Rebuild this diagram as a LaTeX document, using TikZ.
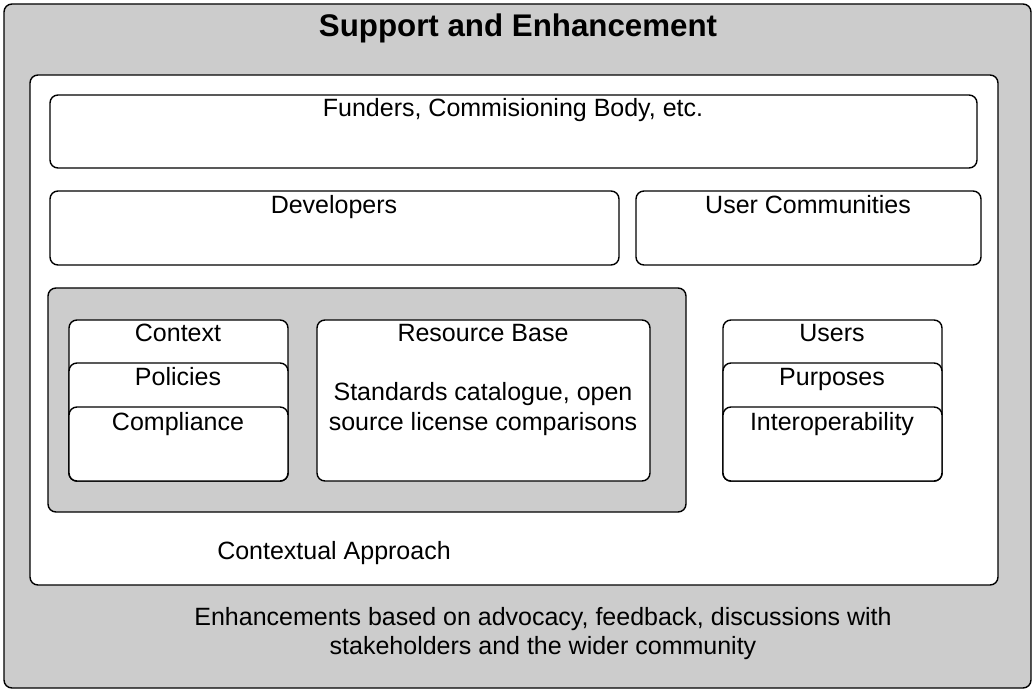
\documentclass[tikz,border=0pt]{standalone}
\usepackage{fontspec}
\setmainfont{Liberation Sans}
\usetikzlibrary{positioning}

\tikzset{
  box/.style={draw=black, line width=1.4pt, rounded corners=8pt, fill=white},
  graybox/.style={box, fill=black!20},
  lbl/.style={anchor=base, inner sep=0pt, font=\fontsize{25}{29}\selectfont, align=center}
}

\begin{document}
\begin{tikzpicture}[x=1pt, y=-1pt]
\useasboundingbox (0,0) rectangle (1036,692);
% outer frame
\draw[graybox] (4,4) rectangle (1031,688);
\node[lbl, font=\fontsize{31.3}{36}\selectfont\bfseries] (title) at (518,37) {Support and Enhancement};
\draw[box] (30,75) rectangle (998,585);
% top rows
\draw[box] (50,95) rectangle (977,168);
\node[lbl] (funders) at (513,117) {Funders, Commisioning Body, etc.};
\draw[box] (50,191) rectangle (619,265);
\node[lbl] (dev) at (334,214) {Developers};
\draw[box] (636,191) rectangle (981,265);
\node[lbl] (usercom) at (808,214) {User Communities};
% contextual approach
\draw[graybox] (48,288) rectangle (686,512);
\draw[box] (69,320) rectangle (288,481);
\node[lbl] (context) at (178,342) {Context};
\draw[box] (69,363) rectangle (288,481);
\node[lbl] (policies) at (178,386) {Policies};
\draw[box] (69,407) rectangle (288,481);
\node[lbl] (compliance) at (178,430) {Compliance};
\draw[box] (317,320) rectangle (650,481);
\node[lbl] (resbase) at (483,342) {Resource Base};
\node[lbl] (standards) at (483,430) {Standards catalogue, open\\source license comparisons};
\node[lbl] (approach) at (334,559) {Contextual Approach};
% users stack
\draw[box] (723,320) rectangle (942,481);
\node[lbl] (users) at (832,342) {Users};
\draw[box] (723,363) rectangle (942,481);
\node[lbl] (purposes) at (832,386) {Purposes};
\draw[box] (723,407) rectangle (942,481);
\node[lbl] (interop) at (832,430) {Interoperability};
% bottom text
\node[lbl] (enhance) at (543,654) {Enhancements based on advocacy, feedback, discussions with\\stakeholders and the wider community};
\end{tikzpicture}
\end{document}
